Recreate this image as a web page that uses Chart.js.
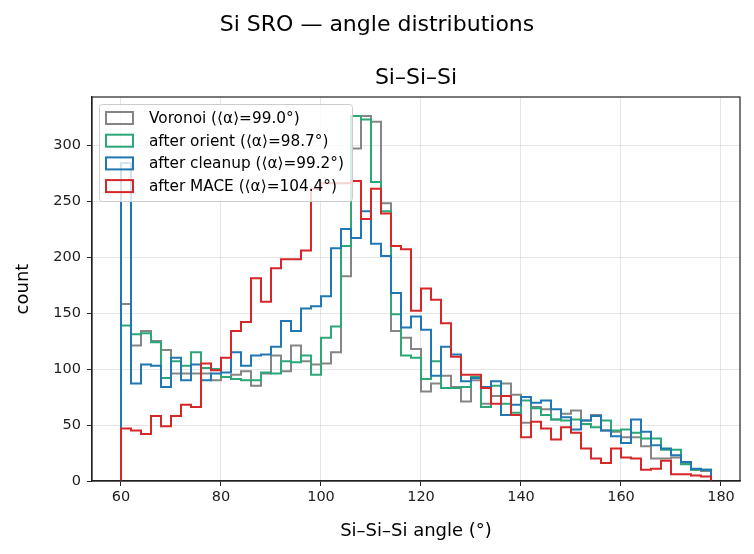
<!DOCTYPE html>
<html>
<head>
<meta charset="utf-8">
<script src="https://cdn.jsdelivr.net/npm/chart.js@4.4.1/dist/chart.umd.min.js"></script>
<style>
  html, body { margin: 0; padding: 0; background: #fff; }
  #wrap { width: 754px; height: 554px; }
</style>
</head>
<body>
<div id="wrap"><canvas id="angleChart" width="754" height="554"></canvas></div>
<script>
// Histogram bins: 2 degree wide, left edges 60..176, last edge 178
const binStart = 60;
const binWidth = 2;

// Counts per bin
const voronoi = [158, 121, 134, 125, 117, 96, 96, 96, 96, 90, 93, 95, 98, 85, 96, 112, 98, 121, 107, 104,
  105, 115, 183, 297, 326, 321, 248, 134, 128, 118, 80, 87, 94, 84, 71, 90, 69, 76, 87, 77,
  52, 66, 64, 55, 60, 63, 54, 59, 45, 44, 39, 39, 31, 20, 20, 21, 16, 10, 9];
const afterOrient = [139, 131, 132, 124, 92, 107, 103, 115, 101, 100, 93, 91, 90, 90, 97, 96, 107, 106, 112, 95,
  128, 138, 210, 326, 323, 267, 241, 149, 112, 110, 91, 107, 83, 83, 84, 93, 66, 85, 69, 61,
  72, 65, 59, 55, 54, 55, 51, 48, 54, 45, 46, 43, 38, 38, 28, 28, 15, 10, 10];
const afterCleanup = [284, 87, 104, 103, 84, 110, 90, 104, 90, 96, 97, 115, 103, 112, 113, 120, 143, 134, 154, 156,
  165, 208, 225, 217, 241, 212, 201, 168, 137, 147, 135, 94, 120, 113, 89, 92, 84, 89, 59, 68,
  75, 70, 72, 64, 57, 46, 54, 58, 45, 40, 34, 55, 44, 32, 29, 23, 17, 11, 10];
const afterMace = [47, 45, 42, 58, 49, 58, 68, 66, 105, 99, 110, 134, 142, 181, 160, 190, 198, 198, 206, 261,
  266, 266, 266, 268, 234, 261, 239, 210, 207, 152, 172, 162, 141, 111, 95, 95, 83, 69, 76, 59,
  39, 53, 47, 37, 48, 43, 29, 20, 16, 29, 21, 20, 10, 11, 18, 6, 6, 5, 4];

const seriesLabels = [
  'Voronoi (⟨α⟩=99.0°)',
  'after orient (⟨α⟩=98.7°)',
  'after cleanup (⟨α⟩=99.2°)',
  'after MACE (⟨α⟩=104.4°)'
];
const seriesColors = ['#858585', '#2ca877', '#1f77b4', '#d62728'];

const xTicks = [60, 80, 100, 120, 140, 160, 180];
const yTicks = [0, 50, 100, 150, 200, 250, 300];

const FONT = "'DejaVu Sans', sans-serif";

// turn bin counts into a step outline (like histtype='step')
function toSteps(counts) {
  const pts = [{ x: binStart, y: 0 }];
  counts.forEach((c, i) => pts.push({ x: binStart + i * binWidth, y: c }));
  const lastEdge = binStart + counts.length * binWidth;
  pts.push({ x: lastEdge, y: counts[counts.length - 1] });
  pts.push({ x: lastEdge, y: 0 });
  return pts;
}

const allSeries = [voronoi, afterOrient, afterCleanup, afterMace];

const datasets = allSeries.map((counts, i) => ({
  label: seriesLabels[i],
  data: toSteps(counts),
  borderColor: seriesColors[i],
  borderWidth: 2,
  stepped: 'before', // horizontal at previous value, then vertical
  pointRadius: 0,
  fill: false,
  borderJoinStyle: 'miter',
  order: 4 - i // red drawn on top
}));

// titles, axis labels, frame and legend
const decorPlugin = {
  id: 'decor',
  afterDraw(chart) {
    const ctx = chart.ctx;
    const area = chart.chartArea;
    ctx.save();

    // frame on all four sides
    ctx.strokeStyle = '#222';
    ctx.lineWidth = 1.2;
    ctx.strokeRect(area.left, area.top, area.right - area.left, area.bottom - area.top);

    ctx.fillStyle = '#000';
    ctx.textAlign = 'center';
    ctx.textBaseline = 'middle';
    ctx.font = '22px ' + FONT;
    ctx.fillText('Si SRO — angle distributions', chart.width / 2, 25);
    ctx.fillText('Si–Si–Si', (area.left + area.right) / 2, 78);

    ctx.font = '18px ' + FONT;
    ctx.fillText('Si–Si–Si angle (°)', (area.left + area.right) / 2, 531);
    ctx.save();
    ctx.translate(23, (area.top + area.bottom) / 2);
    ctx.rotate(-Math.PI / 2);
    ctx.fillText('count', 0, 0);
    ctx.restore();

    // legend box
    const lx = 99, ly = 104, lw = 253, lh = 97;
    ctx.fillStyle = 'rgba(255,255,255,0.8)';
    ctx.strokeStyle = '#cccccc';
    ctx.lineWidth = 1;
    ctx.beginPath();
    ctx.roundRect(lx + 0.5, ly + 0.5, lw, lh, 3);
    ctx.fill();
    ctx.stroke();

    ctx.font = '15.3px ' + FONT;
    ctx.textAlign = 'left';
    seriesLabels.forEach((txt, i) => {
      const cy = 118 + i * 22.7;
      ctx.strokeStyle = seriesColors[i];
      ctx.lineWidth = 2;
      ctx.strokeRect(106, cy - 6, 27, 12);
      ctx.fillStyle = '#000';
      ctx.fillText(txt, 149, cy + 1);
    });
    ctx.restore();
  }
};

new Chart(document.getElementById('angleChart'), {
  type: 'line',
  data: { datasets: datasets },
  options: {
    responsive: false,
    animation: false,
    layout: { padding: { left: 0, right: 14, top: 97, bottom: 0 } },
    plugins: {
      legend: { display: false },
      tooltip: { enabled: false },
      title: { display: false }
    },
    scales: {
      x: {
        type: 'linear',
        min: 54.2,
        max: 183.8,
        afterFit(scale) { scale.height = 73; },
        afterBuildTicks(scale) { scale.ticks = xTicks.map(v => ({ value: v })); },
        grid: {
          color: 'rgba(200,200,200,0.45)',
          lineWidth: 1,
          tickLength: 5,
          tickColor: '#222'
        },
        border: { display: true, color: '#222', width: 1.2 },
        ticks: { color: '#222', padding: 3, font: { family: FONT, size: 14.5 }, maxRotation: 0 }
      },
      y: {
        type: 'linear',
        min: 0,
        max: 343,
        afterFit(scale) { scale.width = 92; },
        afterBuildTicks(scale) { scale.ticks = yTicks.map(v => ({ value: v })); },
        grid: {
          color: 'rgba(200,200,200,0.45)',
          lineWidth: 1,
          tickLength: 5,
          tickColor: '#222'
        },
        border: { display: true, color: '#222', width: 1.2 },
        ticks: { color: '#222', padding: 6, font: { family: FONT, size: 14.5 } }
      }
    }
  },
  plugins: [decorPlugin]
});
</script>
</body>
</html>
